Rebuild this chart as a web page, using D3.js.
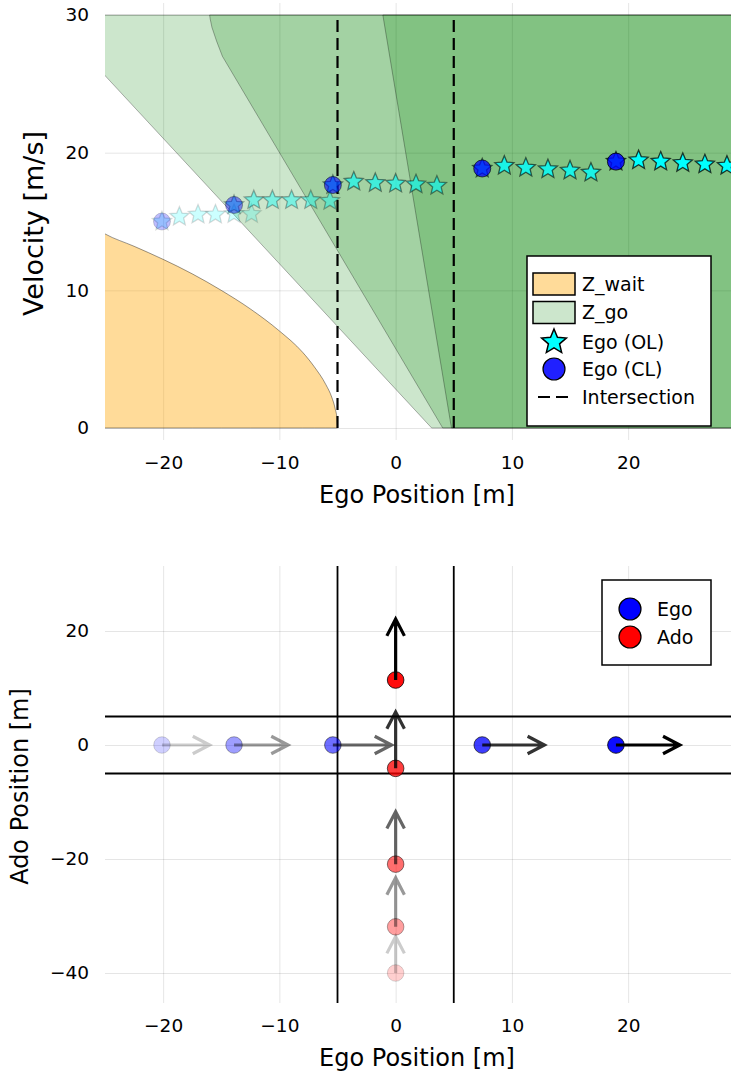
<!DOCTYPE html>
<html>
<head>
<meta charset="utf-8">
<script src="https://cdn.jsdelivr.net/npm/d3@7/dist/d3.min.js"></script>
<style>
  body { margin: 0; background: #fff; }
  text { font-family: "DejaVu Sans", sans-serif; fill: #000; }
</style>
</head>
<body>
<div id="chart"></div>
<script>
// ---- DATA ----
const xTicks = [-20, -10, 0, 10, 20];
const velTicks = [0, 10, 20, 30];
const adoTicks = [-40, -20, 0, 20];
const intersection = [-5, 5];

// Z_wait upper boundary [position, velocity]
const waitZone = [[-25.6, 14.4], [-25, 14.1], [-22.5, 13.2], [-20, 12.25], [-17.5, 11.2],
  [-15, 10.0], [-12.5, 8.65], [-10, 7.05], [-8, 5.5], [-7, 4.45], [-6, 3.15], [-5.5, 2.25],
  [-5.2, 1.4], [-5.05, 0.7], [-5, 0]];
// Z_go regions, one per time step
const goZone1 = [[-26, 30], [31, 30], [31, 0], [3.1, 0], [-25, 25.6], [-26, 26.5]];
const goZone2 = [[-16.0, 30], [31, 30], [31, 0], [4.05, 0], [-14.9, 27.0], [-15.4, 28.1], [-15.8, 29.1], [-15.95, 29.7]];
const goZone3 = [[-1.1, 30], [31, 30], [31, 0], [4.8, 0]];

// closed loop ego states
const clX = [-20.1, -13.9, -5.4, 7.45, 18.95];
const clV = [15.0, 16.2, 17.65, 18.85, 19.35];
// open loop predictions from each closed loop state
const olX = [
  [-20.1, -18.6, -17.0, -15.5, -13.9, -12.4],
  [-13.9, -12.2, -10.6, -8.95, -7.3, -5.65],
  [-5.4, -3.6, -1.75, 0.0, 1.75, 3.55],
  [7.45, 9.35, 11.2, 13.1, 15.0, 16.8],
  [18.95, 20.9, 22.8, 24.7, 26.6, 28.5]
];
const olV = [
  [15.0, 15.35, 15.5, 15.5, 15.55, 15.55],
  [16.2, 16.55, 16.55, 16.55, 16.55, 16.5],
  [17.65, 17.9, 17.8, 17.75, 17.7, 17.6],
  [18.85, 19.05, 18.9, 18.8, 18.7, 18.55],
  [19.35, 19.45, 19.35, 19.25, 19.15, 19.05]
];
const stepAlpha = [0.2, 0.4, 0.6, 0.8, 1.0];

// bottom plot: positions and arrow lengths
const egoPos = [-20.1, -13.9, -5.4, 7.45, 18.95];
const egoArrow = [4.1, 4.65, 5.05, 5.35, 5.5];
const adoPos = [-40, -31.9, -20.9, -4.1, 11.4];
const adoArrow = [6.4, 8.6, 9.2, 9.9, 10.7];

// ---- LAYOUT ----
const LEFT = 105, RIGHT = 731;
const TOP_BOX = { y0: 3, y1: 440 };
const BOT_BOX = { y0: 566, y1: 1003 };

const x = d3.scaleLinear().domain([-25, 30]).range([105, 744.4]);
const yVel = d3.scaleLinear().domain([0, 30]).range([428, 15]);
const yAdo = d3.scaleLinear().domain([-40, 20]).range([973, 631]);

const svg = d3.select("#chart").append("svg")
  .attr("width", 731).attr("height", 1074).style("display", "block");

const defs = svg.append("defs");
defs.append("clipPath").attr("id", "clipTop").append("rect")
  .attr("x", LEFT).attr("y", TOP_BOX.y0).attr("width", RIGHT - LEFT).attr("height", TOP_BOX.y1 - TOP_BOX.y0);
defs.append("clipPath").attr("id", "clipBot").append("rect")
  .attr("x", LEFT).attr("y", BOT_BOX.y0).attr("width", RIGHT - LEFT).attr("height", BOT_BOX.y1 - BOT_BOX.y0);

function starPath(R, k) {
  const pts = d3.range(10).map(i => {
    const a = -Math.PI / 2 + i * Math.PI / 5;
    const r = i % 2 ? R * k : R;
    return [r * Math.cos(a), r * Math.sin(a)];
  });
  return "M" + pts.join("L") + "Z";
}

function drawGrid(g, yScale, yTicks, box) {
  g.append("g")
    .attr("transform", `translate(0, ${box.y1})`)
    .call(d3.axisBottom(x).tickValues(xTicks).tickSize(-(box.y1 - box.y0)).tickFormat(""))
    .call(a => a.select(".domain").remove())
    .selectAll("line").attr("stroke", "#000").attr("stroke-opacity", 0.1);
  g.append("g")
    .attr("transform", `translate(${LEFT}, 0)`)
    .call(d3.axisLeft(yScale).tickValues(yTicks).tickSize(-(RIGHT - LEFT)).tickFormat(""))
    .call(a => a.select(".domain").remove())
    .selectAll("line").attr("stroke", "#000").attr("stroke-opacity", 0.1);
}

function drawAxes(yScale, yTicks, box, xLabel, yLabel, yLabelX, yLabelSize) {
  svg.append("g")
    .attr("transform", `translate(0, ${box.y1})`)
    .call(d3.axisBottom(x).tickValues(xTicks).tickSize(0).tickPadding(16).tickFormat(d3.format("d")))
    .call(a => a.select(".domain").remove())
    .selectAll("text").attr("font-size", 18.5).attr("font-family", "DejaVu Sans");
  svg.append("g")
    .attr("transform", `translate(${LEFT}, 0)`)
    .call(d3.axisLeft(yScale).tickValues(yTicks).tickSize(0).tickPadding(16).tickFormat(d3.format("d")))
    .call(a => a.select(".domain").remove())
    .selectAll("text").attr("font-size", 18.5).attr("font-family", "DejaVu Sans");
  svg.append("text")
    .attr("x", 417).attr("y", box.y1 + 63)
    .attr("text-anchor", "middle").attr("font-size", 24)
    .text(xLabel);
  svg.append("text")
    .attr("transform", `translate(${yLabelX}, ${(box.y0 + box.y1) / 2 + 2}) rotate(-90)`)
    .attr("text-anchor", "middle").attr("font-size", yLabelSize)
    .text(yLabel);
}

function arrow(g, x0, y0, x1, y1, alpha) {
  const ang = Math.atan2(y1 - y0, x1 - x0);
  const L = 19, spread = 0.48;
  const w1 = [x1 - L * Math.cos(ang - spread), y1 - L * Math.sin(ang - spread)];
  const w2 = [x1 - L * Math.cos(ang + spread), y1 - L * Math.sin(ang + spread)];
  g.append("g").attr("opacity", alpha)
    .append("path")
    .attr("d", `M${x0},${y0}L${x1},${y1}M${w1}L${x1},${y1}L${w2}`)
    .attr("fill", "none").attr("stroke", "#000").attr("stroke-width", 3.2)
    .attr("stroke-linejoin", "miter");
}

// ================= TOP PLOT =================
const topPlot = svg.append("g").attr("clip-path", "url(#clipTop)");
drawGrid(topPlot, yVel, velTicks, TOP_BOX);

const zoneLine = d3.line().x(d => x(d[0])).y(d => yVel(d[1]));
const waitArea = d3.area()
  .x(d => x(d[0])).y0(yVel(0)).y1(d => yVel(d[1]))
  .curve(d3.curveMonotoneX);

topPlot.append("path")
  .attr("d", waitArea(waitZone))
  .attr("fill", "rgb(255,165,0)").attr("fill-opacity", 0.4)
  .attr("stroke", "#000").attr("stroke-opacity", 0.4).attr("stroke-width", 1);

[goZone1, goZone2, goZone3].forEach(zone => {
  topPlot.append("path")
    .attr("d", zoneLine(zone) + "Z")
    .attr("fill", "rgb(0,128,0)").attr("fill-opacity", 0.2)
    .attr("stroke", "#000").attr("stroke-opacity", 0.3).attr("stroke-width", 1);
});

topPlot.selectAll(".inter").data(intersection).join("line")
  .attr("class", "inter")
  .attr("x1", d => x(d)).attr("x2", d => x(d))
  .attr("y1", yVel(0)).attr("y2", yVel(30))
  .attr("stroke", "#000").attr("stroke-width", 2.2).attr("stroke-dasharray", "12,6");

const star = starPath(10, 0.45);
olX.forEach((xs, t) => {
  topPlot.append("g").selectAll("path").data(xs).join("path")
    .attr("d", star)
    .attr("transform", (d, i) => `translate(${x(d)}, ${yVel(olV[t][i])})`)
    .attr("fill", "cyan").attr("fill-opacity", stepAlpha[t])
    .attr("stroke", "#000").attr("stroke-opacity", stepAlpha[t] * 0.75).attr("stroke-width", 1.3);
});

topPlot.selectAll(".cl").data(clX).join("circle")
  .attr("class", "cl")
  .attr("cx", d => x(d)).attr("cy", (d, i) => yVel(clV[i])).attr("r", 8.5)
  .attr("fill", "blue").attr("fill-opacity", (d, i) => Math.min(1, stepAlpha[i] + 0.1) * 0.85)
  .attr("stroke", "#000").attr("stroke-opacity", (d, i) => stepAlpha[i] * 0.8).attr("stroke-width", 1);

drawAxes(yVel, velTicks, TOP_BOX, "Ego Position [m]", "Velocity [m/s]", 43, 27);

// top legend
const leg1 = svg.append("g");
leg1.append("rect").attr("x", 527).attr("y", 256).attr("width", 184).attr("height", 170)
  .attr("fill", "#fff").attr("stroke", "#000").attr("stroke-width", 1.5);
leg1.append("rect").attr("x", 533).attr("y", 273).attr("width", 42).attr("height", 22)
  .attr("fill", "rgb(255,165,0)").attr("fill-opacity", 0.4).attr("stroke", "#000").attr("stroke-width", 1.5);
leg1.append("rect").attr("x", 533).attr("y", 301.5).attr("width", 42).attr("height", 22)
  .attr("fill", "rgb(0,128,0)").attr("fill-opacity", 0.2).attr("stroke", "#000").attr("stroke-width", 1.5);
leg1.append("path").attr("d", starPath(13, 0.45)).attr("transform", "translate(554, 342)")
  .attr("fill", "cyan").attr("stroke", "#000").attr("stroke-width", 1.5);
leg1.append("circle").attr("cx", 554).attr("cy", 369).attr("r", 11)
  .attr("fill", "#2020ff").attr("stroke", "#000").attr("stroke-width", 1.2);
leg1.append("line").attr("x1", 538).attr("x2", 574).attr("y1", 397).attr("y2", 397)
  .attr("stroke", "#000").attr("stroke-width", 2).attr("stroke-dasharray", "12,6");
const legend1Labels = ["Z_wait", "Z_go", "Ego (OL)", "Ego (CL)", "Intersection"];
const legend1Y = [284, 312.5, 342, 369, 397];
leg1.selectAll("text").data(legend1Labels).join("text")
  .attr("x", 582).attr("y", (d, i) => legend1Y[i]).attr("dy", "0.36em")
  .attr("font-size", 19).text(d => d);

// ================= BOTTOM PLOT =================
const botPlot = svg.append("g").attr("clip-path", "url(#clipBot)");
drawGrid(botPlot, yAdo, adoTicks, BOT_BOX);

botPlot.selectAll(".vl").data(intersection).join("line")
  .attr("class", "vl")
  .attr("x1", d => x(d)).attr("x2", d => x(d))
  .attr("y1", BOT_BOX.y0).attr("y2", BOT_BOX.y1)
  .attr("stroke", "#000").attr("stroke-width", 1.8);
botPlot.selectAll(".hl").data(intersection).join("line")
  .attr("class", "hl")
  .attr("x1", LEFT).attr("x2", RIGHT)
  .attr("y1", d => yAdo(d)).attr("y2", d => yAdo(d))
  .attr("stroke", "#000").attr("stroke-width", 1.8);

botPlot.selectAll(".ego").data(egoPos).join("circle")
  .attr("class", "ego")
  .attr("cx", d => x(d)).attr("cy", yAdo(0)).attr("r", 8.3)
  .attr("fill", "blue").attr("fill-opacity", (d, i) => stepAlpha[i] * 0.95)
  .attr("stroke", "#000").attr("stroke-opacity", (d, i) => stepAlpha[i] * 0.8);
botPlot.selectAll(".ado").data(adoPos).join("circle")
  .attr("class", "ado")
  .attr("cx", x(0)).attr("cy", d => yAdo(d)).attr("r", 8.3)
  .attr("fill", "red").attr("fill-opacity", (d, i) => stepAlpha[i] * 0.95)
  .attr("stroke", "#000").attr("stroke-opacity", (d, i) => stepAlpha[i] * 0.8);

egoPos.forEach((p, i) => arrow(botPlot, x(p), yAdo(0), x(p + egoArrow[i]), yAdo(0), stepAlpha[i]));
adoPos.forEach((p, i) => arrow(botPlot, x(0), yAdo(p), x(0), yAdo(p + adoArrow[i]), stepAlpha[i]));

drawAxes(yAdo, adoTicks, BOT_BOX, "Ego Position [m]", "Ado Position [m]", 28, 24);

// bottom legend
const leg2 = svg.append("g");
leg2.append("rect").attr("x", 602).attr("y", 580).attr("width", 109).attr("height", 85)
  .attr("fill", "#fff").attr("stroke", "#000").attr("stroke-width", 1.5);
const legend2Labels = ["Ego", "Ado"];
const legend2Colors = ["blue", "red"];
const legend2Y = [609, 637];
leg2.selectAll("circle").data(legend2Labels).join("circle")
  .attr("cx", 630).attr("cy", (d, i) => legend2Y[i]).attr("r", 11)
  .attr("fill", (d, i) => legend2Colors[i]).attr("stroke", "#000").attr("stroke-width", 1.2);
leg2.selectAll("text").data(legend2Labels).join("text")
  .attr("x", 657).attr("y", (d, i) => legend2Y[i]).attr("dy", "0.36em")
  .attr("font-size", 19).text(d => d);
</script>
</body>
</html>
